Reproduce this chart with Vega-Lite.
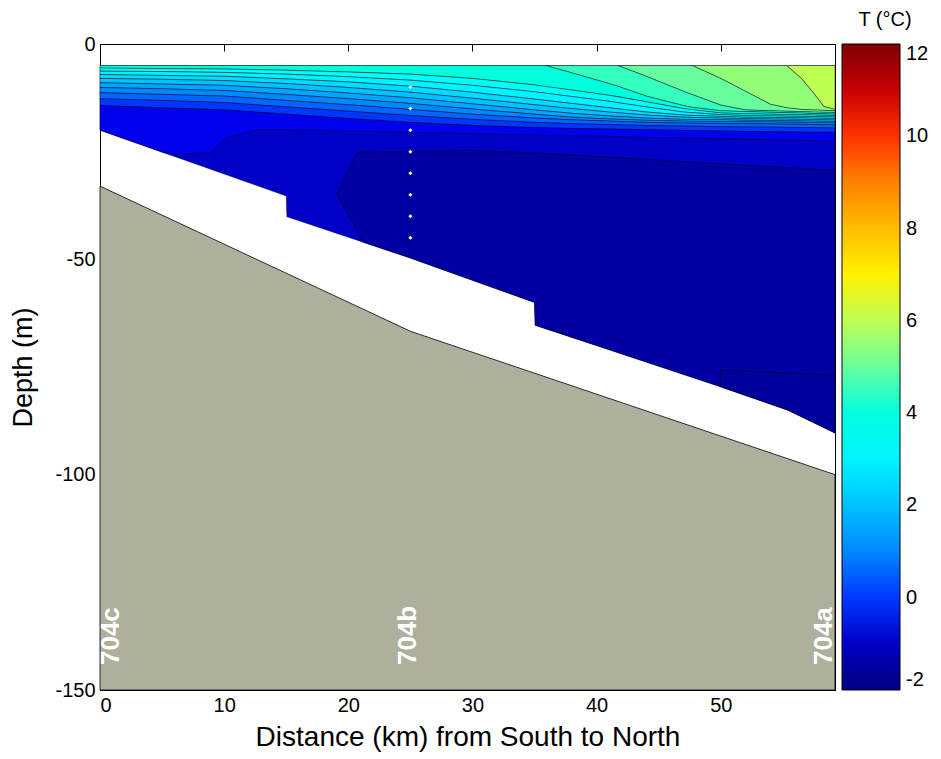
{
  "$schema": "https://vega.github.io/schema/vega-lite/v6.json",
  "width": 735,
  "height": 646,
  "autosize": "none",
  "padding": {"left": 100, "top": 44, "right": 106, "bottom": 69},
  "background": "white",
  "config": {
    "font": "Liberation Sans",
    "view": {"stroke": "black", "strokeWidth": 1},
    "axis": {
      "grid": false,
      "domainColor": "black",
      "tickColor": "black",
      "labelColor": "black",
      "titleColor": "black",
      "labelFont": "Liberation Sans",
      "titleFont": "Liberation Sans",
      "titleFontWeight": "normal",
      "labelFontSize": 20,
      "titleFontSize": 27,
      "tickSize": -7
    }
  },
  "datasets": {
    "region": [
      {"T": -1, "x": 0, "top": -5, "bot": -20},
      {"T": -1, "x": 15, "top": -5, "bot": -35.3},
      {"T": -1, "x": 15.05, "top": -5, "bot": -40.1},
      {"T": -1, "x": 25, "top": -5, "bot": -49.7},
      {"T": -1, "x": 35, "top": -5, "bot": -60},
      {"T": -1, "x": 35.05, "top": -5, "bot": -65.3},
      {"T": -1, "x": 50, "top": -5, "bot": -79.6},
      {"T": -1, "x": 55.4, "top": -5, "bot": -85},
      {"T": -1, "x": 59.2, "top": -5, "bot": -90.3}
    ],
    "deep": [
      {"T": -1.5, "x": 19.1, "top": -35, "bot": -35},
      {"T": -1.5, "x": 19.9, "top": -30, "bot": -39.2},
      {"T": -1.5, "x": 20.7, "top": -25.2, "bot": -43.4},
      {"T": -1.5, "x": 21.1, "top": -25.1, "bot": -45.9},
      {"T": -1.5, "x": 25, "top": -24.9, "bot": -49.7},
      {"T": -1.5, "x": 30, "top": -24.7, "bot": -54.85},
      {"T": -1.5, "x": 35, "top": -25.3, "bot": -60},
      {"T": -1.5, "x": 35.05, "top": -25.3, "bot": -65.3},
      {"T": -1.5, "x": 40, "top": -26.1, "bot": -70},
      {"T": -1.5, "x": 50, "top": -27.8, "bot": -79.6},
      {"T": -1.5, "x": 55.4, "top": -28.7, "bot": -85},
      {"T": -1.5, "x": 59.2, "top": -29.3, "bot": -90.3}
    ],
    "corner": [
      {"T": -1.6, "x": 50, "top": -75.7, "bot": -79.6},
      {"T": -1.6, "x": 55.4, "top": -76.4, "bot": -85},
      {"T": -1.6, "x": 59.2, "top": -76.9, "bot": -90.3}
    ],
    "bands": [
      {"T": 6, "x": 55.3, "top": -5, "bot": -5},
      {"T": 6, "x": 56.5, "top": -5, "bot": -8},
      {"T": 6, "x": 57.5, "top": -5, "bot": -11.5},
      {"T": 6, "x": 58.3, "top": -5, "bot": -14.5},
      {"T": 6, "x": 59.2, "top": -5, "bot": -15.2},

      {"T": 5.5, "x": 47.7, "top": -5, "bot": -5},
      {"T": 5.5, "x": 50, "top": -5, "bot": -8},
      {"T": 5.5, "x": 52, "top": -5, "bot": -11},
      {"T": 5.5, "x": 54, "top": -5, "bot": -14},
      {"T": 5.5, "x": 55.3, "top": -5, "bot": -14.8},
      {"T": 5.5, "x": 56.5, "top": -8, "bot": -15.2},
      {"T": 5.5, "x": 57.5, "top": -11.5, "bot": -15.3},
      {"T": 5.5, "x": 58.3, "top": -14.5, "bot": -15.4},
      {"T": 5.5, "x": 59.2, "top": -15.2, "bot": -15.5},

      {"T": 5, "x": 41.7, "top": -5, "bot": -5},
      {"T": 5, "x": 44, "top": -5, "bot": -7.5},
      {"T": 5, "x": 47, "top": -5, "bot": -11},
      {"T": 5, "x": 47.7, "top": -5, "bot": -11.75},
      {"T": 5, "x": 50, "top": -8, "bot": -14.2},
      {"T": 5, "x": 52, "top": -11, "bot": -15.3},
      {"T": 5, "x": 54, "top": -14, "bot": -15.5},
      {"T": 5, "x": 55.3, "top": -14.8, "bot": -15.6},
      {"T": 5, "x": 56.5, "top": -15.2, "bot": -15.7},
      {"T": 5, "x": 57.5, "top": -15.3, "bot": -15.8},
      {"T": 5, "x": 58.3, "top": -15.4, "bot": -15.85},
      {"T": 5, "x": 59.2, "top": -15.5, "bot": -15.9},

      {"T": 4.5, "x": 35.9, "top": -5, "bot": -5},
      {"T": 4.5, "x": 38, "top": -5, "bot": -6.7},
      {"T": 4.5, "x": 41, "top": -5, "bot": -9.2},
      {"T": 4.5, "x": 41.7, "top": -5, "bot": -9.8},
      {"T": 4.5, "x": 44, "top": -7.5, "bot": -12.1},
      {"T": 4.5, "x": 47, "top": -11, "bot": -14.3},
      {"T": 4.5, "x": 47.7, "top": -11.75, "bot": -14.7},
      {"T": 4.5, "x": 50, "top": -14.2, "bot": -15.5},
      {"T": 4.5, "x": 52, "top": -15.3, "bot": -15.7},
      {"T": 4.5, "x": 54, "top": -15.5, "bot": -15.85},
      {"T": 4.5, "x": 55.3, "top": -15.6, "bot": -15.95},
      {"T": 4.5, "x": 56.5, "top": -15.7, "bot": -16.05},
      {"T": 4.5, "x": 57.5, "top": -15.8, "bot": -16.15},
      {"T": 4.5, "x": 58.3, "top": -15.85, "bot": -16.2},
      {"T": 4.5, "x": 59.2, "top": -15.9, "bot": -16.3},

      {"T": 4, "x": 0, "top": -5, "bot": -5.6},
      {"T": 4, "x": 5, "top": -5, "bot": -5.7},
      {"T": 4, "x": 10, "top": -5, "bot": -5.8},
      {"T": 4, "x": 15, "top": -5, "bot": -6.1},
      {"T": 4, "x": 20, "top": -5, "bot": -6.5},
      {"T": 4, "x": 25, "top": -5, "bot": -7},
      {"T": 4, "x": 30, "top": -5, "bot": -8},
      {"T": 4, "x": 35, "top": -5, "bot": -9.5},
      {"T": 4, "x": 35.9, "top": -5, "bot": -9.9},
      {"T": 4, "x": 38, "top": -6.7, "bot": -10.7},
      {"T": 4, "x": 41, "top": -9.2, "bot": -11.9},
      {"T": 4, "x": 41.7, "top": -9.8, "bot": -12.2},
      {"T": 4, "x": 44, "top": -12.1, "bot": -13.4},
      {"T": 4, "x": 47, "top": -14.3, "bot": -15},
      {"T": 4, "x": 47.7, "top": -14.7, "bot": -15.3},
      {"T": 4, "x": 50, "top": -15.5, "bot": -16},
      {"T": 4, "x": 52, "top": -15.7, "bot": -16.2},
      {"T": 4, "x": 54, "top": -15.85, "bot": -16.3},
      {"T": 4, "x": 55.3, "top": -15.95, "bot": -16.4},
      {"T": 4, "x": 56.5, "top": -16.05, "bot": -16.45},
      {"T": 4, "x": 57.5, "top": -16.15, "bot": -16.5},
      {"T": 4, "x": 58.3, "top": -16.2, "bot": -16.55},
      {"T": 4, "x": 59.2, "top": -16.3, "bot": -16.6},

      {"T": 3.5, "x": 0, "top": -5.6, "bot": -6.3},
      {"T": 3.5, "x": 5, "top": -5.7, "bot": -6.4},
      {"T": 3.5, "x": 10, "top": -5.8, "bot": -6.6},
      {"T": 3.5, "x": 15, "top": -6.1, "bot": -7},
      {"T": 3.5, "x": 20, "top": -6.5, "bot": -7.6},
      {"T": 3.5, "x": 25, "top": -7, "bot": -8.4},
      {"T": 3.5, "x": 30, "top": -8, "bot": -9.6},
      {"T": 3.5, "x": 35, "top": -9.5, "bot": -11.1},
      {"T": 3.5, "x": 38, "top": -10.7, "bot": -12.2},
      {"T": 3.5, "x": 41, "top": -11.9, "bot": -13.3},
      {"T": 3.5, "x": 44, "top": -13.4, "bot": -14.6},
      {"T": 3.5, "x": 47, "top": -15, "bot": -15.8},
      {"T": 3.5, "x": 50, "top": -16, "bot": -16.4},
      {"T": 3.5, "x": 52, "top": -16.2, "bot": -16.6},
      {"T": 3.5, "x": 54, "top": -16.3, "bot": -16.7},
      {"T": 3.5, "x": 56.5, "top": -16.45, "bot": -16.8},
      {"T": 3.5, "x": 59.2, "top": -16.6, "bot": -16.95},

      {"T": 3, "x": 0, "top": -6.3, "bot": -7.1},
      {"T": 3, "x": 5, "top": -6.4, "bot": -7.3},
      {"T": 3, "x": 10, "top": -6.6, "bot": -7.5},
      {"T": 3, "x": 15, "top": -7, "bot": -8.1},
      {"T": 3, "x": 20, "top": -7.6, "bot": -8.8},
      {"T": 3, "x": 25, "top": -8.4, "bot": -9.8},
      {"T": 3, "x": 30, "top": -9.6, "bot": -11.2},
      {"T": 3, "x": 35, "top": -11.1, "bot": -12.8},
      {"T": 3, "x": 38, "top": -12.2, "bot": -13.8},
      {"T": 3, "x": 41, "top": -13.3, "bot": -14.8},
      {"T": 3, "x": 44, "top": -14.6, "bot": -15.8},
      {"T": 3, "x": 47, "top": -15.8, "bot": -16.5},
      {"T": 3, "x": 50, "top": -16.4, "bot": -16.8},
      {"T": 3, "x": 52, "top": -16.6, "bot": -17},
      {"T": 3, "x": 54, "top": -16.7, "bot": -17.05},
      {"T": 3, "x": 56.5, "top": -16.8, "bot": -17.15},
      {"T": 3, "x": 59.2, "top": -16.95, "bot": -17.3},

      {"T": 2.5, "x": 0, "top": -7.1, "bot": -8},
      {"T": 2.5, "x": 5, "top": -7.3, "bot": -8.2},
      {"T": 2.5, "x": 10, "top": -7.5, "bot": -8.5},
      {"T": 2.5, "x": 15, "top": -8.1, "bot": -9.2},
      {"T": 2.5, "x": 20, "top": -8.8, "bot": -10.1},
      {"T": 2.5, "x": 25, "top": -9.8, "bot": -11.2},
      {"T": 2.5, "x": 30, "top": -11.2, "bot": -12.6},
      {"T": 2.5, "x": 35, "top": -12.8, "bot": -14.1},
      {"T": 2.5, "x": 38, "top": -13.8, "bot": -15},
      {"T": 2.5, "x": 41, "top": -14.8, "bot": -15.8},
      {"T": 2.5, "x": 44, "top": -15.8, "bot": -16.5},
      {"T": 2.5, "x": 47, "top": -16.5, "bot": -17},
      {"T": 2.5, "x": 50, "top": -16.8, "bot": -17.2},
      {"T": 2.5, "x": 52, "top": -17, "bot": -17.35},
      {"T": 2.5, "x": 54, "top": -17.05, "bot": -17.4},
      {"T": 2.5, "x": 56.5, "top": -17.15, "bot": -17.5},
      {"T": 2.5, "x": 59.2, "top": -17.3, "bot": -17.65},

      {"T": 2, "x": 0, "top": -8, "bot": -9},
      {"T": 2, "x": 5, "top": -8.2, "bot": -9.3},
      {"T": 2, "x": 10, "top": -8.5, "bot": -9.6},
      {"T": 2, "x": 15, "top": -9.2, "bot": -10.4},
      {"T": 2, "x": 20, "top": -10.1, "bot": -11.4},
      {"T": 2, "x": 25, "top": -11.2, "bot": -12.5},
      {"T": 2, "x": 30, "top": -12.6, "bot": -13.9},
      {"T": 2, "x": 35, "top": -14.1, "bot": -15.3},
      {"T": 2, "x": 38, "top": -15, "bot": -16.1},
      {"T": 2, "x": 41, "top": -15.8, "bot": -16.7},
      {"T": 2, "x": 44, "top": -16.5, "bot": -17.2},
      {"T": 2, "x": 47, "top": -17, "bot": -17.5},
      {"T": 2, "x": 50, "top": -17.2, "bot": -17.6},
      {"T": 2, "x": 52, "top": -17.35, "bot": -17.7},
      {"T": 2, "x": 54, "top": -17.4, "bot": -17.75},
      {"T": 2, "x": 56.5, "top": -17.5, "bot": -17.85},
      {"T": 2, "x": 59.2, "top": -17.65, "bot": -18},

      {"T": 1.5, "x": 0, "top": -9, "bot": -10.1},
      {"T": 1.5, "x": 5, "top": -9.3, "bot": -10.4},
      {"T": 1.5, "x": 10, "top": -9.6, "bot": -10.8},
      {"T": 1.5, "x": 15, "top": -10.4, "bot": -11.7},
      {"T": 1.5, "x": 20, "top": -11.4, "bot": -12.7},
      {"T": 1.5, "x": 25, "top": -12.5, "bot": -13.8},
      {"T": 1.5, "x": 30, "top": -13.9, "bot": -15.1},
      {"T": 1.5, "x": 35, "top": -15.3, "bot": -16.3},
      {"T": 1.5, "x": 38, "top": -16.1, "bot": -17},
      {"T": 1.5, "x": 41, "top": -16.7, "bot": -17.4},
      {"T": 1.5, "x": 44, "top": -17.2, "bot": -17.7},
      {"T": 1.5, "x": 47, "top": -17.5, "bot": -17.9},
      {"T": 1.5, "x": 50, "top": -17.6, "bot": -18},
      {"T": 1.5, "x": 52, "top": -17.7, "bot": -18.05},
      {"T": 1.5, "x": 54, "top": -17.75, "bot": -18.1},
      {"T": 1.5, "x": 56.5, "top": -17.85, "bot": -18.2},
      {"T": 1.5, "x": 59.2, "top": -18, "bot": -18.35},

      {"T": 1, "x": 0, "top": -10.1, "bot": -11.3},
      {"T": 1, "x": 5, "top": -10.4, "bot": -11.7},
      {"T": 1, "x": 10, "top": -10.8, "bot": -12.1},
      {"T": 1, "x": 15, "top": -11.7, "bot": -13.1},
      {"T": 1, "x": 20, "top": -12.7, "bot": -14.1},
      {"T": 1, "x": 25, "top": -13.8, "bot": -15.2},
      {"T": 1, "x": 30, "top": -15.1, "bot": -16.3},
      {"T": 1, "x": 35, "top": -16.3, "bot": -17.2},
      {"T": 1, "x": 38, "top": -17, "bot": -17.6},
      {"T": 1, "x": 41, "top": -17.4, "bot": -17.9},
      {"T": 1, "x": 44, "top": -17.7, "bot": -18.2},
      {"T": 1, "x": 47, "top": -17.9, "bot": -18.35},
      {"T": 1, "x": 50, "top": -18, "bot": -18.45},
      {"T": 1, "x": 52, "top": -18.05, "bot": -18.5},
      {"T": 1, "x": 54, "top": -18.1, "bot": -18.55},
      {"T": 1, "x": 56.5, "top": -18.2, "bot": -18.65},
      {"T": 1, "x": 59.2, "top": -18.35, "bot": -18.8},

      {"T": 0.5, "x": 0, "top": -11.3, "bot": -12.7},
      {"T": 0.5, "x": 5, "top": -11.7, "bot": -13.1},
      {"T": 0.5, "x": 10, "top": -12.1, "bot": -13.6},
      {"T": 0.5, "x": 15, "top": -13.1, "bot": -14.6},
      {"T": 0.5, "x": 20, "top": -14.1, "bot": -15.6},
      {"T": 0.5, "x": 25, "top": -15.2, "bot": -16.6},
      {"T": 0.5, "x": 30, "top": -16.3, "bot": -17.5},
      {"T": 0.5, "x": 35, "top": -17.2, "bot": -18.2},
      {"T": 0.5, "x": 38, "top": -17.6, "bot": -18.5},
      {"T": 0.5, "x": 41, "top": -17.9, "bot": -18.7},
      {"T": 0.5, "x": 44, "top": -18.2, "bot": -18.9},
      {"T": 0.5, "x": 47, "top": -18.35, "bot": -19.05},
      {"T": 0.5, "x": 50, "top": -18.45, "bot": -19.2},
      {"T": 0.5, "x": 52, "top": -18.5, "bot": -19.25},
      {"T": 0.5, "x": 54, "top": -18.55, "bot": -19.3},
      {"T": 0.5, "x": 56.5, "top": -18.65, "bot": -19.4},
      {"T": 0.5, "x": 59.2, "top": -18.8, "bot": -19.5},

      {"T": 0, "x": 0, "top": -12.7, "bot": -14.3},
      {"T": 0, "x": 5, "top": -13.1, "bot": -14.8},
      {"T": 0, "x": 10, "top": -13.6, "bot": -15.3},
      {"T": 0, "x": 15, "top": -14.6, "bot": -16.3},
      {"T": 0, "x": 20, "top": -15.6, "bot": -17.3},
      {"T": 0, "x": 25, "top": -16.6, "bot": -18.2},
      {"T": 0, "x": 30, "top": -17.5, "bot": -18.9},
      {"T": 0, "x": 35, "top": -18.2, "bot": -19.4},
      {"T": 0, "x": 38, "top": -18.5, "bot": -19.6},
      {"T": 0, "x": 41, "top": -18.7, "bot": -19.75},
      {"T": 0, "x": 44, "top": -18.9, "bot": -19.9},
      {"T": 0, "x": 47, "top": -19.05, "bot": -20.05},
      {"T": 0, "x": 50, "top": -19.2, "bot": -20.2},
      {"T": 0, "x": 52, "top": -19.25, "bot": -20.3},
      {"T": 0, "x": 54, "top": -19.3, "bot": -20.35},
      {"T": 0, "x": 56.5, "top": -19.4, "bot": -20.45},
      {"T": 0, "x": 59.2, "top": -19.5, "bot": -20.5},

      {"T": -0.5, "x": 0, "top": -14.3, "bot": -20},
      {"T": -0.5, "x": 5, "top": -14.8, "bot": -25.1},
      {"T": -0.5, "x": 5.6, "top": -14.86, "bot": -25.6},
      {"T": -0.5, "x": 8.9, "top": -15.19, "bot": -25.2},
      {"T": -0.5, "x": 10.2, "top": -15.34, "bot": -21.7},
      {"T": -0.5, "x": 12.9, "top": -15.88, "bot": -19.8},
      {"T": -0.5, "x": 15, "top": -16.3, "bot": -19.9},
      {"T": -0.5, "x": 20, "top": -17.3, "bot": -20.2},
      {"T": -0.5, "x": 25, "top": -18.2, "bot": -20.5},
      {"T": -0.5, "x": 30, "top": -18.9, "bot": -20.8},
      {"T": -0.5, "x": 35, "top": -19.4, "bot": -21.1},
      {"T": -0.5, "x": 38, "top": -19.6, "bot": -21.28},
      {"T": -0.5, "x": 41, "top": -19.75, "bot": -21.46},
      {"T": -0.5, "x": 44, "top": -19.9, "bot": -21.64},
      {"T": -0.5, "x": 47, "top": -20.05, "bot": -21.82},
      {"T": -0.5, "x": 50, "top": -20.2, "bot": -22},
      {"T": -0.5, "x": 52, "top": -20.3, "bot": -22.11},
      {"T": -0.5, "x": 54, "top": -20.35, "bot": -22.22},
      {"T": -0.5, "x": 56.5, "top": -20.45, "bot": -22.35},
      {"T": -0.5, "x": 59.2, "top": -20.5, "bot": -22.5}
    ],
    "ground": [
      {"x": 0, "g": -33},
      {"x": 25, "g": -66.7},
      {"x": 59.2, "g": -100}
    ],
    "casts": [
      {"x": 25, "d": -10},
      {"x": 25, "d": -15},
      {"x": 25, "d": -20},
      {"x": 25, "d": -25},
      {"x": 25, "d": -30},
      {"x": 25, "d": -35},
      {"x": 25, "d": -40},
      {"x": 25, "d": -45}
    ],
    "stations": [
      {"name": "704c", "x": 0.9, "d": -144.2},
      {"name": "704b", "x": 24.8, "d": -144.2},
      {"name": "704a", "x": 58.3, "d": -144.2}
    ]
  },
  "resolve": {"axis": {"x": "independent", "y": "independent"}},
  "layer": [
    {
      "data": {"name": "region"},
      "mark": {"type": "area", "stroke": "black", "strokeWidth": 0.5, "strokeOpacity": 0.8},
      "encoding": {
        "x": {"field": "x", "type": "quantitative", "scale": {"domain": [0, 59.2], "nice": false, "zero": false},
          "axis": {"values": [0, 10, 20, 30, 40, 50], "title": "Distance (km) from South to North", "titleFontSize": 28, "labelPadding": 12, "titlePadding": 8}},
        "y": {"field": "top", "type": "quantitative", "scale": {"domain": [-150, 0], "nice": false, "zero": false},
          "axis": {"values": [-150, -100, -50, 0], "title": "Depth (m)", "labelExpr": "'' + datum.value", "labelPadding": 12, "titlePadding": 17}},
        "y2": {"field": "bot"},
        "color": {"field": "T", "type": "quantitative",
          "scale": {"domain": [-2, -0.25, 3.25, 6.75, 10.25, 12], "range": ["#000080", "#0000ff", "#00ffff", "#ffff00", "#ff0000", "#800000"]},
          "legend": {"orient": "none", "legendX": 742, "legendY": -34, "direction": "vertical", "gradientLength": 646, "gradientThickness": 58,
            "title": "T (°C)", "titleFontSize": 20, "titleFontWeight": "normal", "titleColor": "black", "titleAnchor": "middle", "titlePadding": 14,
            "values": [-2, 0, 2, 4, 6, 8, 10, 12], "labelExpr": "'' + datum.value", "labelFontSize": 20, "labelColor": "black", "labelOffset": 6, "labelOverlap": false,
            "gradientStrokeColor": "black", "gradientStrokeWidth": 1, "padding": 0}}
      }
    },
    {
      "data": {"name": "bands"},
      "mark": {"type": "area", "stroke": "black", "strokeWidth": 0.5, "strokeOpacity": 0.8},
      "encoding": {
        "x": {"field": "x", "type": "quantitative", "axis": null},
        "y": {"field": "top", "type": "quantitative", "axis": null},
        "y2": {"field": "bot"},
        "color": {"field": "T", "type": "quantitative"},
        "detail": {"field": "T"}
      }
    },
    {
      "data": {"name": "deep"},
      "mark": {"type": "area", "stroke": "black", "strokeWidth": 0.6, "strokeOpacity": 0.8},
      "encoding": {
        "x": {"field": "x", "type": "quantitative", "axis": null},
        "y": {"field": "top", "type": "quantitative", "axis": null},
        "y2": {"field": "bot"},
        "color": {"field": "T", "type": "quantitative"}
      }
    },
    {
      "data": {"name": "corner"},
      "mark": {"type": "area", "stroke": "black", "strokeWidth": 0.6, "strokeOpacity": 0.8},
      "encoding": {
        "x": {"field": "x", "type": "quantitative", "axis": null},
        "y": {"field": "top", "type": "quantitative", "axis": null},
        "y2": {"field": "bot"},
        "color": {"field": "T", "type": "quantitative"}
      }
    },
    {
      "data": {"name": "ground"},
      "mark": {"type": "area", "color": "#aeb09d", "stroke": "black", "strokeWidth": 0.8},
      "encoding": {
        "x": {"field": "x", "type": "quantitative",
          "axis": {"orient": "top", "values": [0, 10, 20, 30, 40, 50], "labels": false, "title": null, "domain": true}},
        "y": {"field": "g", "type": "quantitative",
          "axis": {"orient": "right", "values": [-150, -100, -50, 0], "labels": false, "title": null, "domain": true}},
        "y2": {"datum": -150}
      }
    },
    {
      "data": {"name": "casts"},
      "mark": {"type": "point", "filled": true, "color": "white", "size": 16, "opacity": 1, "shape": "diamond"},
      "encoding": {
        "x": {"field": "x", "type": "quantitative", "axis": null},
        "y": {"field": "d", "type": "quantitative", "axis": null}
      }
    },
    {
      "data": {"name": "stations"},
      "mark": {"type": "text", "angle": 270, "align": "left", "baseline": "middle", "fontWeight": "bold", "fontSize": 26, "color": "white", "font": "Liberation Sans"},
      "encoding": {
        "x": {"field": "x", "type": "quantitative", "axis": null},
        "y": {"field": "d", "type": "quantitative", "axis": null},
        "text": {"field": "name"}
      }
    }
  ]
}
